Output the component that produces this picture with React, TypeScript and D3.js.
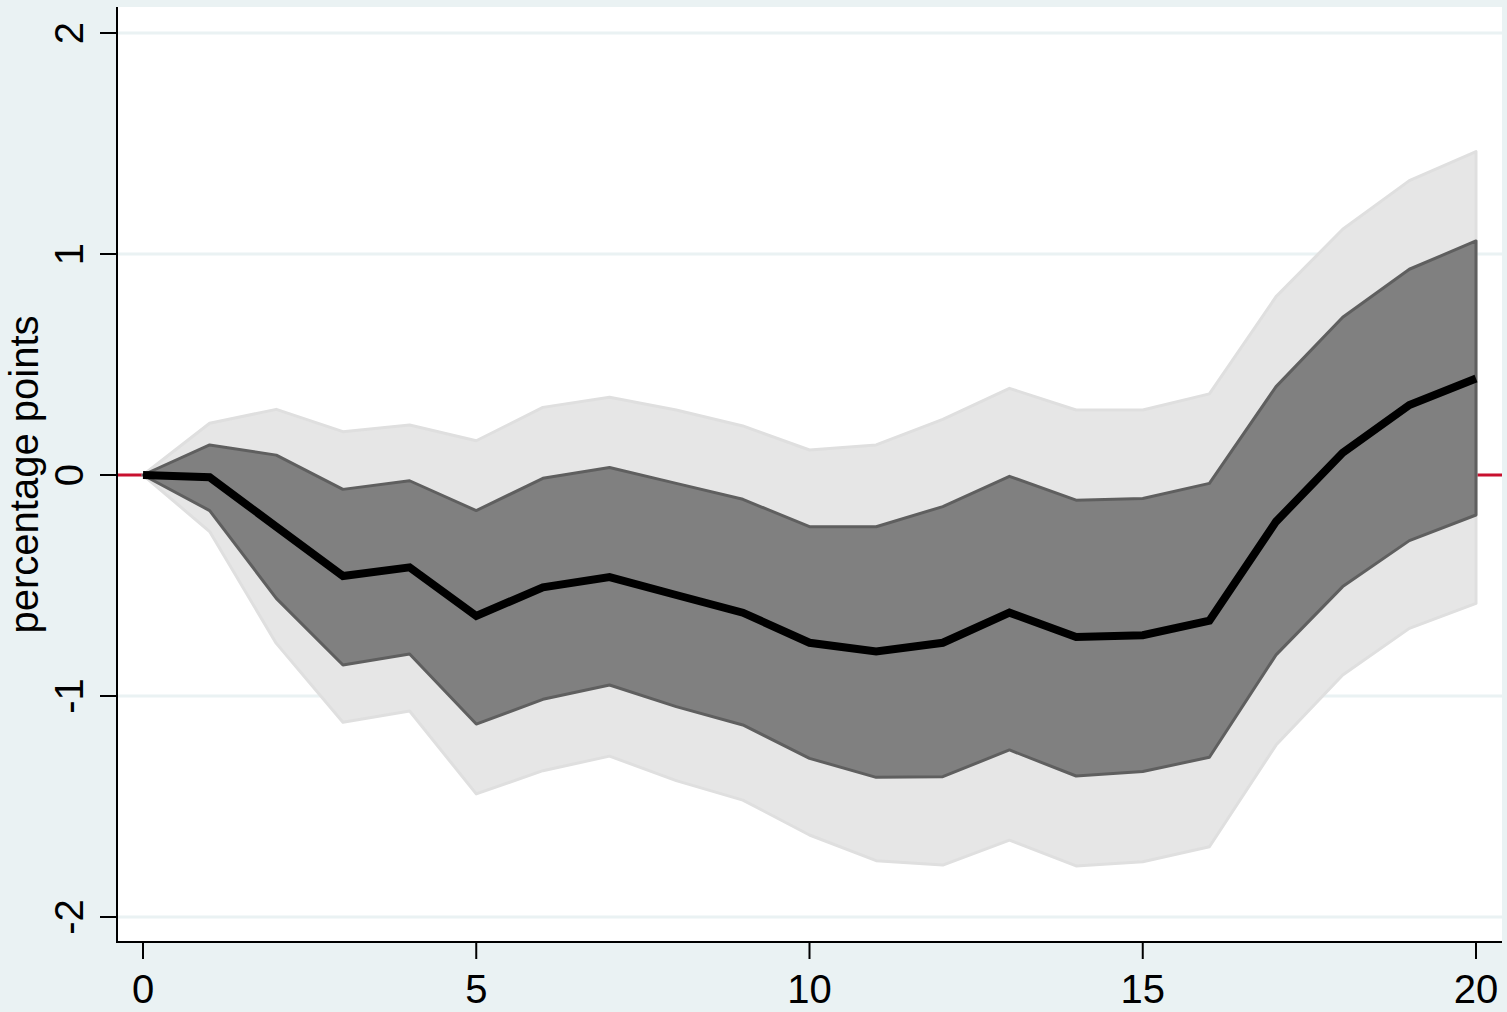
import React from "react";
import * as d3 from "d3";

// Horizon (periods after the shock)
const horizon = [0, 1, 2, 3, 4, 5, 6, 7, 8, 9, 10, 11, 12, 13, 14, 15, 16, 17, 18, 19, 20];

// Impulse response (percentage points)
const irf = [0, -0.01, -0.234, -0.457, -0.418, -0.638, -0.508, -0.462, -0.543, -0.623, -0.759, -0.799, -0.759, -0.623, -0.733, -0.725, -0.659, -0.211, 0.101, 0.317, 0.437];

// Inner confidence band
const innerUpper = [0, 0.136, 0.09, -0.065, -0.026, -0.161, -0.015, 0.034, -0.038, -0.11, -0.234, -0.234, -0.143, -0.006, -0.114, -0.106, -0.038, 0.4, 0.714, 0.931, 1.059];
const innerLower = [0, -0.161, -0.558, -0.86, -0.81, -1.127, -1.015, -0.95, -1.048, -1.131, -1.282, -1.368, -1.365, -1.244, -1.362, -1.342, -1.277, -0.814, -0.505, -0.297, -0.181];

// Outer confidence band
const outerUpper = [0, 0.234, 0.297, 0.196, 0.226, 0.155, 0.306, 0.352, 0.294, 0.222, 0.113, 0.136, 0.252, 0.392, 0.294, 0.294, 0.367, 0.807, 1.112, 1.332, 1.463];
const outerLower = [0, -0.256, -0.762, -1.119, -1.068, -1.443, -1.338, -1.272, -1.383, -1.471, -1.629, -1.745, -1.765, -1.652, -1.769, -1.75, -1.682, -1.222, -0.905, -0.694, -0.581];

const xTicks = [0, 5, 10, 15, 20];
const yTicks = [-2, -1, 0, 1, 2];
const yTitle = "percentage points";

const W = 1507;
const H = 1012;
const plotLeft = 117;
const plotRight = 1502;
const plotTop = 7;
const plotBottom = 942;

const BG = "#EAF2F3";
const FONT = "'Liberation Sans', Arial, Helvetica, sans-serif";

export default function App() {
  const x = d3.scaleLinear().domain([0, 20]).range([143, 1476]);
  const y = d3.scaleLinear().domain([-2, 2]).range([917, 33]);

  const band = (lo: number[], hi: number[]) =>
    d3
      .area<number>()
      .x((d) => x(d))
      .y0((_, i) => y(lo[i]))
      .y1((_, i) => y(hi[i]))(horizon) || "";

  const line =
    d3
      .line<number>()
      .x((d) => x(d))
      .y((_, i) => y(irf[i]))(horizon) || "";

  const gridTicks = yTicks.filter((t) => t !== 0);

  return (
    <svg
      width={W}
      height={H}
      style={{ position: "absolute", left: 0, top: 0, display: "block" }}
      fontFamily={FONT}
    >
      <rect x={0} y={0} width={W} height={H} fill={BG} />
      <rect
        x={plotLeft}
        y={plotTop}
        width={plotRight - plotLeft}
        height={plotBottom - plotTop}
        fill="#FFFFFF"
      />

      {/* horizontal grid */}
      {gridTicks.map((t) => (
        <line
          key={`g${t}`}
          x1={plotLeft}
          x2={plotRight}
          y1={y(t)}
          y2={y(t)}
          stroke={BG}
          strokeWidth={3}
        />
      ))}

      {/* zero reference line */}
      <line
        x1={plotLeft}
        x2={plotRight}
        y1={y(0)}
        y2={y(0)}
        stroke="#C8102E"
        strokeWidth={3}
      />

      {/* confidence bands */}
      <path d={band(outerLower, outerUpper)} fill="#E6E6E6" stroke="#DFDFDF" strokeWidth={3} strokeLinejoin="round" />
      <path d={band(innerLower, innerUpper)} fill="#808080" stroke="#5F5F5F" strokeWidth={3} strokeLinejoin="round" />

      {/* response */}
      <path d={line} fill="none" stroke="#000000" strokeWidth={8} strokeLinejoin="miter" strokeLinecap="butt" />

      {/* axes */}
      <line x1={plotLeft} x2={plotLeft} y1={plotTop} y2={plotBottom + 1} stroke="#000" strokeWidth={2} />
      <line x1={plotLeft - 1} x2={plotRight} y1={plotBottom} y2={plotBottom} stroke="#000" strokeWidth={2} />

      {yTicks.map((t) => (
        <g key={`y${t}`}>
          <line x1={plotLeft - 17} x2={plotLeft} y1={y(t)} y2={y(t)} stroke="#000" strokeWidth={2} />
          <text
            transform={`translate(${83},${y(t)}) rotate(-90)`}
            textAnchor="middle"
            fontSize={40}
            fill="#000"
          >
            {t}
          </text>
        </g>
      ))}

      {xTicks.map((t) => (
        <g key={`x${t}`}>
          <line x1={x(t)} x2={x(t)} y1={plotBottom} y2={plotBottom + 17} stroke="#000" strokeWidth={2} />
          <text x={x(t)} y={1003} textAnchor="middle" fontSize={40} fill="#000">
            {t}
          </text>
        </g>
      ))}

      <text
        transform={`translate(${38},${(plotTop + plotBottom) / 2}) rotate(-90)`}
        textAnchor="middle"
        fontSize={40}
        fill="#000"
      >
        {yTitle}
      </text>
    </svg>
  );
}
